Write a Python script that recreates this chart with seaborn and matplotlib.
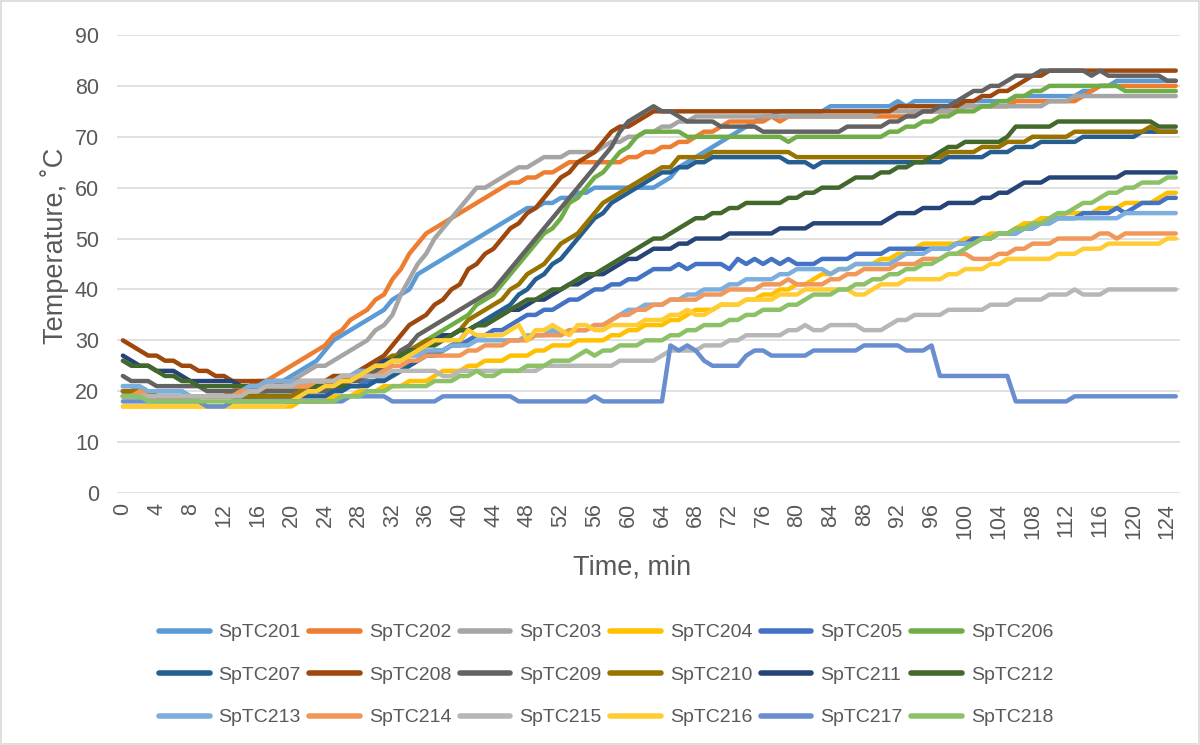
import matplotlib
matplotlib.use("Agg")
import matplotlib.pyplot as plt
import seaborn as sns
import pandas as pd
from matplotlib.lines import Line2D
from matplotlib.patches import Rectangle

# ---------------- data (temperature, deg C, one reading per minute) ----------------
minutes = list(range(126))

sptc201 = [21,21,20,20,20,20,20,20,19,19, 19,19,19,19,20,21,21,22,22,22,
           23,24,25,26,28,30,31,32,33,34, 35,36,38,39,40,43,44,45,46,47,
           48,49,50,51,52,53,54,55,56,56, 57,57,58,58,59,59,60,60,60,60,
           60,60,60,60,61,62,64,65,66,67, 68,69,70,71,72,73,74,74,75,75,
           75,75,75,75,76,76,76,76,76,76, 76,76,77,76,77,77,77,77,77,77,
           77,77,77,77,77,77,78,78,78,78, 78,78,78,78,79,79,80,80,81,81,
           81,81,81,81,81,81]
sptc202 = [20,20,20,19,19,19,19,19,19,19, 19,19,19,20,21,21,22,22,23,24,
           25,26,27,28,29,31,32,34,35,36, 38,39,42,44,47,49,51,52,53,54,
           55,56,57,58,59,60,61,61,62,62, 63,63,64,65,65,65,65,65,65,65,
           66,66,67,67,68,68,69,69,70,71, 71,72,73,73,73,73,73,74,73,74,
           74,74,74,74,74,74,74,74,74,74, 74,74,74,74,75,75,75,75,75,75,
           76,76,76,76,76,76,77,77,77,77, 77,77,77,77,78,79,80,80,80,80,
           80,80,80,80,80,80]
sptc203 = [19,19,19,19,19,19,19,19,19,19, 19,19,19,19,19,20,20,21,21,22,
           22,23,24,25,25,26,27,28,29,30, 32,33,35,39,42,45,47,50,52,54,
           56,58,60,60,61,62,63,64,64,65, 66,66,66,67,67,67,67,68,69,69,
           70,70,71,71,72,72,73,73,74,74, 74,74,74,74,74,74,74,74,74,74,
           74,74,74,74,74,74,74,74,74,74, 75,75,75,75,75,75,75,75,75,75,
           76,76,76,76,76,76,76,76,76,76, 77,77,77,78,78,78,78,78,78,78,
           78,78,78,78,78,78]
sptc204 = [17,17,17,17,17,17,17,17,17,17, 17,17,17,17,17,17,17,17,17,17,
           17,18,18,18,18,19,19,19,20,20, 20,21,21,21,22,22,22,23,24,24,
           24,25,25,26,26,26,27,27,27,28, 28,29,29,29,30,30,30,30,31,31,
           32,32,33,33,33,34,34,35,36,36, 36,37,37,37,38,38,39,39,40,40,
           41,41,42,43,43,44,44,45,45,45, 46,46,47,47,48,49,49,49,49,49,
           50,50,50,51,51,51,52,53,53,54, 54,54,55,55,55,55,56,56,56,57,
           57,57,57,58,59,59]
sptc205 = [19,19,19,19,19,19,19,19,19,19, 19,19,19,19,19,19,19,19,19,19,
           19,20,20,20,20,20,21,21,21,22, 22,23,23,24,25,26,27,28,28,29,
           29,30,31,31,32,32,33,34,35,35, 36,36,37,38,38,39,40,40,41,41,
           42,42,43,44,44,44,45,44,45,45, 45,45,44,46,45,46,45,46,45,46,
           45,45,45,46,46,46,46,47,47,47, 47,48,48,48,48,48,48,48,48,49,
           49,50,50,50,51,51,51,52,52,53, 53,54,54,54,55,55,55,55,56,55,
           56,57,57,57,58,58]
sptc206 = [19,19,19,19,19,19,19,19,19,19, 19,19,19,19,19,19,19,20,20,20,
           20,20,20,21,21,21,21,22,23,24, 24,25,26,26,27,28,30,31,32,33,
           34,35,37,38,39,41,43,45,47,49, 51,52,54,57,58,60,62,63,65,67,
           68,70,71,71,71,71,71,70,70,70, 70,70,70,70,70,70,70,70,70,69,
           70,70,70,70,70,70,70,70,70,70, 70,71,71,72,72,73,73,74,74,75,
           75,75,76,76,77,77,78,78,79,79, 80,80,80,80,80,80,80,80,80,79,
           79,79,79,79,79,79]
sptc207 = [20,20,20,20,19,19,19,19,19,19, 19,19,19,19,19,19,19,19,19,19,
           19,19,19,19,19,20,20,21,21,21, 22,22,23,24,25,26,27,27,28,29,
           30,32,33,34,35,36,37,39,40,42, 43,45,46,48,50,52,54,55,57,58,
           59,60,61,62,63,63,64,64,65,65, 66,66,66,66,66,66,66,66,66,65,
           65,65,64,65,65,65,65,65,65,65, 65,65,65,65,65,65,65,65,66,66,
           66,66,66,67,67,67,68,68,68,69, 69,69,69,69,70,70,70,70,70,70,
           70,71,71,71,71,71]
sptc208 = [30,29,28,27,27,26,26,25,25,24, 24,23,23,22,22,22,22,22,22,22,
           22,22,22,22,22,23,23,23,24,25, 26,27,29,31,33,34,35,37,38,40,
           41,44,45,47,48,50,52,53,55,56, 58,60,62,63,65,66,67,69,71,72,
           72,73,74,75,75,75,75,75,75,75, 75,75,75,75,75,75,75,75,75,75,
           75,75,75,75,75,75,75,75,75,75, 75,75,76,76,76,76,76,76,76,76,
           77,77,78,78,79,79,80,81,82,82, 83,83,83,83,83,83,83,83,83,83,
           83,83,83,83,83,83]
sptc209 = [23,22,22,22,21,21,21,21,21,21, 20,20,20,20,20,20,20,20,20,20,
           20,20,20,20,20,21,21,22,22,23, 24,25,26,28,29,31,32,33,34,35,
           36,37,38,39,40,42,44,46,48,50, 52,54,56,58,60,62,64,66,68,71,
           73,74,75,76,75,75,74,73,73,73, 73,72,72,72,72,72,71,71,71,71,
           71,71,71,71,71,71,72,72,72,72, 72,73,73,74,74,75,75,76,76,77,
           78,79,79,80,80,81,82,82,82,83, 83,83,83,83,83,82,83,82,82,82,
           82,82,82,82,81,81]
sptc210 = [20,20,20,20,19,19,19,19,19,19, 19,19,19,19,19,19,19,19,19,19,
           19,20,20,21,21,22,22,23,23,24, 25,26,27,27,28,29,30,30,31,31,
           32,34,35,36,37,38,40,41,43,44, 45,47,49,50,51,53,55,57,58,59,
           60,61,62,63,64,64,66,66,66,66, 67,67,67,67,67,67,67,67,67,67,
           66,66,66,66,66,66,66,66,66,66, 66,66,66,66,66,66,66,66,67,67,
           67,67,68,68,68,69,69,69,70,70, 70,70,70,71,71,71,71,71,71,71,
           71,71,72,71,71,71]
sptc211 = [27,26,25,25,24,24,24,23,22,22, 22,22,22,22,21,21,21,21,21,21,
           21,21,21,21,21,21,21,22,23,24, 25,26,26,27,28,28,29,30,31,31,
           32,32,33,33,34,35,36,36,37,38, 38,39,40,41,41,42,43,43,44,45,
           46,46,47,48,48,48,49,49,50,50, 50,50,51,51,51,51,51,51,52,52,
           52,52,53,53,53,53,53,53,53,53, 53,54,55,55,55,56,56,56,57,57,
           57,57,58,58,59,59,60,61,61,61, 62,62,62,62,62,62,62,62,62,63,
           63,63,63,63,63,63]
sptc212 = [26,25,25,25,24,23,23,22,22,21, 21,21,21,21,21,21,21,21,21,21,
           21,21,21,21,21,21,21,22,23,24, 25,25,26,27,28,28,29,29,30,31,
           32,32,33,33,34,35,36,37,38,38, 39,40,40,41,42,43,43,44,45,46,
           47,48,49,50,50,51,52,53,54,54, 55,55,56,56,57,57,57,57,57,58,
           58,59,59,60,60,60,61,62,62,62, 63,63,64,64,65,65,66,67,68,68,
           69,69,69,69,69,70,72,72,72,72, 72,73,73,73,73,73,73,73,73,73,
           73,73,73,72,72,72]
sptc213 = [21,21,21,20,20,20,20,20,19,19, 19,19,19,19,20,21,21,22,22,22,
           22,22,22,22,22,22,23,23,24,24, 25,25,26,26,27,27,28,28,28,29,
           29,29,30,30,30,30,30,30,31,31, 31,32,31,32,32,32,33,33,34,35,
           36,36,37,37,37,38,38,39,39,40, 40,40,41,41,42,42,42,42,43,43,
           44,44,44,44,43,44,44,45,45,45, 45,45,46,47,47,47,48,48,48,49,
           49,49,50,50,51,51,51,52,52,53, 53,54,54,54,54,54,54,54,54,55,
           55,55,55,55,55,55]
sptc214 = [19,19,20,19,19,19,19,19,19,19, 19,19,19,19,20,20,20,21,21,21,
           21,21,21,22,22,22,22,22,23,23, 23,24,25,25,26,26,27,27,27,27,
           27,28,28,29,29,29,30,30,30,31, 31,31,31,32,32,32,33,33,34,35,
           35,36,36,37,37,38,38,38,38,39, 39,39,40,40,40,40,41,41,41,42,
           41,41,41,41,42,42,43,43,44,44, 44,44,45,45,45,46,46,46,47,47,
           47,46,46,46,47,47,48,48,49,49, 49,50,50,50,50,50,51,51,50,51,
           51,51,51,51,51,51]
sptc215 = [19,19,19,19,19,19,19,19,19,19, 19,19,19,19,19,20,20,21,21,21,
           21,22,22,22,22,22,23,23,23,23, 23,23,24,24,24,24,24,24,23,23,
           24,24,24,24,24,24,24,24,24,24, 25,25,25,25,25,25,25,25,25,26,
           26,26,26,26,27,28,28,28,28,29, 29,29,30,30,31,31,31,31,31,32,
           32,33,32,32,33,33,33,33,32,32, 32,33,34,34,35,35,35,35,36,36,
           36,36,36,37,37,37,38,38,38,38, 39,39,39,40,39,39,39,40,40,40,
           40,40,40,40,40,40]
sptc216 = [17,17,17,17,17,17,17,17,17,17, 17,17,17,17,17,17,17,17,17,17,
           18,19,20,20,21,21,22,22,23,24, 25,25,26,26,27,28,29,30,30,30,
           30,32,31,31,31,31,32,33,30,32, 32,33,32,31,33,33,32,32,33,33,
           33,33,34,34,34,35,35,36,35,35, 36,37,37,37,38,38,38,38,39,39,
           39,40,40,40,40,40,40,39,39,40, 41,41,41,42,42,42,42,42,43,43,
           44,44,44,45,45,46,46,46,46,46, 46,47,47,47,48,48,48,49,49,49,
           49,49,49,49,50,50]
sptc217 = [18,18,18,18,18,18,18,18,18,18, 17,17,17,18,18,18,18,18,18,18,
           18,18,18,18,18,18,18,19,19,19, 19,19,18,18,18,18,18,18,19,19,
           19,19,19,19,19,19,19,18,18,18, 18,18,18,18,18,18,19,18,18,18,
           18,18,18,18,18,29,28,29,28,26, 25,25,25,25,27,28,28,27,27,27,
           27,27,28,28,28,28,28,28,29,29, 29,29,29,28,28,28,29,23,23,23,
           23,23,23,23,23,23,18,18,18,18, 18,18,18,19,19,19,19,19,19,19,
           19,19,19,19,19,19]
sptc218 = [19,19,19,18,18,18,18,18,18,18, 18,18,18,18,18,18,18,18,18,18,
           18,18,18,18,18,18,19,19,19,20, 20,20,21,21,21,21,21,22,22,22,
           23,23,24,23,23,24,24,24,25,25, 25,26,26,26,27,28,27,28,28,29,
           29,29,30,30,30,31,31,32,32,33, 33,33,34,34,35,35,36,36,36,37,
           37,38,39,39,39,40,40,41,41,42, 42,43,43,44,44,45,45,46,47,47,
           48,49,50,50,51,51,52,52,53,53, 54,55,55,56,57,57,58,59,59,60,
           60,61,61,61,62,62]

series_names = ["SpTC201", "SpTC202", "SpTC203", "SpTC204", "SpTC205", "SpTC206",
                "SpTC207", "SpTC208", "SpTC209", "SpTC210", "SpTC211", "SpTC212",
                "SpTC213", "SpTC214", "SpTC215", "SpTC216", "SpTC217", "SpTC218"]
series_values = [sptc201, sptc202, sptc203, sptc204, sptc205, sptc206,
                 sptc207, sptc208, sptc209, sptc210, sptc211, sptc212,
                 sptc213, sptc214, sptc215, sptc216, sptc217, sptc218]
series_colors = ["#5B9BD5", "#ED7D31", "#A5A5A5", "#FFC000", "#4472C4", "#70AD47",
                 "#255E91", "#9E480E", "#636363", "#997300", "#264478", "#43682B",
                 "#7CAFDD", "#F1975A", "#B7B7B7", "#FFCD33", "#698ED0", "#8CC168"]
x_tick_labels = [str(m) for m in range(0, 125, 4)]
y_ticks = [0, 10, 20, 30, 40, 50, 60, 70, 80, 90]

# ---------------- long-format table ----------------
rows = []
for name, vals in zip(series_names, series_values):
    for m, v in zip(minutes, vals):
        rows.append((name, m, v))
df = pd.DataFrame(rows, columns=["Sensor", "Time", "Temperature"])

# ---------------- figure ----------------
sns.set_theme(style="white")
plt.rcParams["font.family"] = ["Liberation Sans", "DejaVu Sans"]

W, H = 1200, 745
fig = plt.figure(figsize=(W / 100, H / 100), dpi=100)
ax = fig.add_axes([117 / W, 1 - 493 / H, (1180 - 117) / W, (493 - 35) / H])

palette = dict(zip(series_names, series_colors))
sns.lineplot(data=df, x="Time", y="Temperature", hue="Sensor", hue_order=series_names,
             palette=palette, linewidth=3.2, estimator=None, sort=False,
             legend=False, ax=ax, solid_joinstyle="round", solid_capstyle="round")

ax.set_ylim(0, 90)
ax.set_xlim(-0.7, 125.5)
ax.set_yticks(y_ticks)
ax.set_xticks(list(range(0, 125, 4)))
ax.set_xticklabels(x_tick_labels, rotation=90)
ax.yaxis.grid(True, color="#D9D9D9", linewidth=1.1)
ax.xaxis.grid(False)
ax.set_axisbelow(True)
for s in ax.spines.values():
    s.set_visible(False)
ax.tick_params(axis="both", length=0, labelcolor="#595959", labelsize=15.5)
ax.tick_params(axis="y", pad=13)
ax.tick_params(axis="x", pad=7)
ax.set_xlabel("")
ax.set_ylabel("")

fig.text(632 / W, 1 - 567 / H, "Time, min", ha="center", va="center",
         fontsize=19.5, color="#595959")
fig.text(55 / W, 1 - 246 / H, "Temperature, ˚C", ha="center", va="center",
         rotation=90, fontsize=19.5, color="#595959")

# legend: 3 rows x 6 columns, filled row by row
handles = [Line2D([0], [0], color=c, lw=4, solid_capstyle="round") for c in series_colors]
ncol = 6
nrow = 3
order = [r * ncol + c for c in range(ncol) for r in range(nrow)]
leg = fig.legend([handles[i] for i in order], [series_names[i] for i in order],
                 ncol=ncol, loc="center", bbox_to_anchor=(606 / W, 1 - 675 / H),
                 frameon=False, fontsize=14, handlelength=2.6, handletextpad=0.45,
                 columnspacing=0.45, labelspacing=1.28)
for t in leg.get_texts():
    t.set_color("#595959")

fig.add_artist(Rectangle((0.001, 0.001), 0.998, 0.998, transform=fig.transFigure,
                         fill=False, edgecolor="#D9D9D9", linewidth=1.2))

fig.savefig("out.png", dpi=100, facecolor="white")
